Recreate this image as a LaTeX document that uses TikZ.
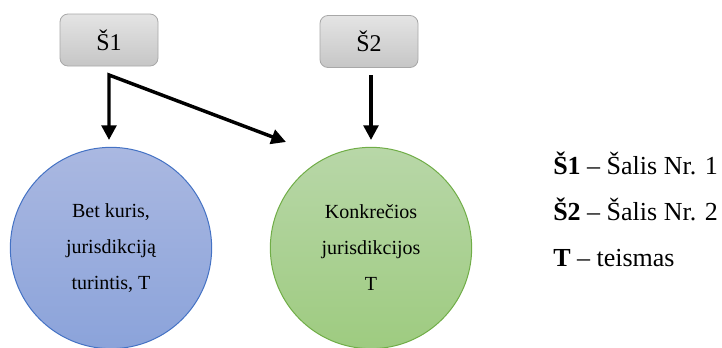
\documentclass[tikz,border=0pt]{standalone}
\usepackage{fontspec}
\setmainfont{Liberation Serif}
\usetikzlibrary{positioning,calc,arrows.meta,shapes}
\definecolor{boxtop}{RGB}{228,228,228}
\definecolor{boxbot}{RGB}{198,198,198}
\definecolor{boxline}{RGB}{168,168,168}
\definecolor{bluetop}{RGB}{170,184,225}
\definecolor{bluebot}{RGB}{139,163,218}
\definecolor{blueline}{RGB}{68,114,196}
\definecolor{greentop}{RGB}{184,215,168}
\definecolor{greenbot}{RGB}{158,203,128}
\definecolor{greenline}{RGB}{112,173,71}
\tikzstyle{country}=[rectangle,rounded corners=6pt,minimum width=73.5pt,minimum height=39pt,
  draw=boxline,line width=0.6pt,top color=boxtop,bottom color=boxbot,
  font=\fontsize{18}{21}\selectfont]
\tikzstyle{court}=[circle,minimum size=151pt,inner sep=0pt,align=center,line width=0.75pt,
  font=\fontsize{15}{27}\selectfont]
\tikzstyle{legend}=[anchor=base west,inner sep=0pt,font=\fontsize{19.5}{23}\selectfont]
\tikzstyle{arr}=[line width=2.6pt,line join=miter,-{Triangle[width=11pt,length=11pt]}]

\begin{document}
\begin{tikzpicture}[x=0.75pt,y=-0.75pt]
  \useasboundingbox (0,0) rectangle (722,347);
  \node [country] at (109, 40) (s1) {Š1};
  \node [country] at (369, 41.5) (s2) {Š2};
  \node [court, draw=blueline, top color=bluetop, bottom color=bluebot] at (111, 248) (t1)
    {Bet kuris,\\jurisdikciją\\turintis, T};
  \node [court, draw=greenline, top color=greentop, bottom color=greenbot] at (371, 248) (t2)
    {Konkrečios\\jurisdikcijos\\T};

  \coordinate (fork) at (109, 75);
  \coordinate (tip1) at (109, 140);
  \coordinate (tip2) at (286, 142);
  \coordinate (top2) at (371, 75);
  \coordinate (tip3) at (371, 140);

  \node [legend] at (553, 174) (l1) {\textbf{Š1} – Šalis Nr. 1};
  \node [legend] at (553, 220) (l2) {\textbf{Š2} – Šalis Nr. 2};
  \node [legend] at (553, 266) (l3) {\textbf{T} – teismas};

  \draw [arr, {Triangle[width=11pt,length=11pt]}-{Triangle[width=11pt,length=11pt]}] (tip1) -- (fork) -- (tip2);
  \draw [arr] (top2) -- (tip3);
\end{tikzpicture}
\end{document}
